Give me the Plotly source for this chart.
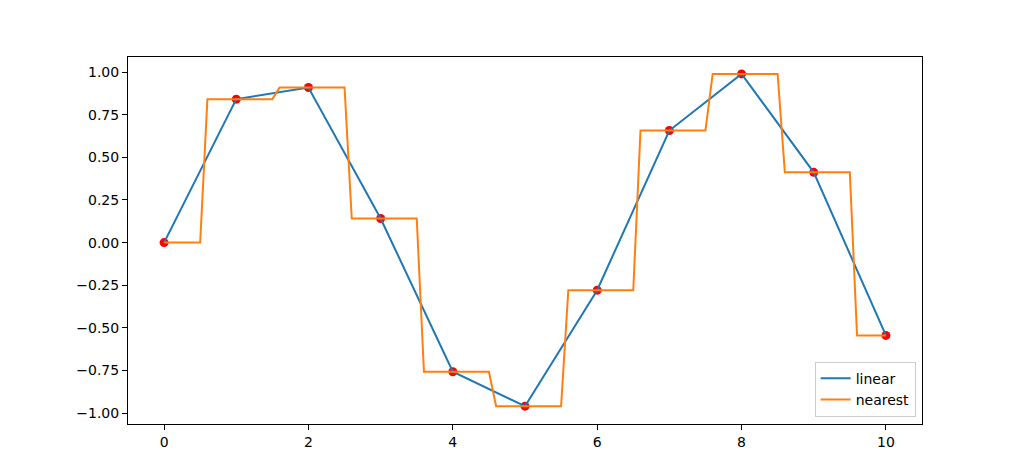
import plotly.graph_objects as go

# Sample points (x, sin-like values)
x_pts = [0, 1, 2, 3, 4, 5, 6, 7, 8, 9, 10]
y_pts = [0.0, 0.841, 0.909, 0.141, -0.757, -0.959, -0.279, 0.657, 0.989, 0.412, -0.544]

# Linear interpolation line uses the same points
x_linear = x_pts
y_linear = y_pts

# Nearest-neighbour step line vertices
x_nearest = [0, 0.5, 0.6, 1.5, 1.6, 2.5, 2.6, 3.5, 3.6, 4.5, 4.6, 5.5, 5.6, 6.5, 6.6,
             7.5, 7.6, 8.5, 8.6, 9.5, 9.6, 10]
y_nearest = [0.0, 0.0, 0.841, 0.841, 0.909, 0.909, 0.141, 0.141, -0.757, -0.757,
             -0.959, -0.959, -0.279, -0.279, 0.657, 0.657, 0.989, 0.989, 0.412, 0.412,
             -0.544, -0.544]

x_ticks = [0, 2, 4, 6, 8, 10]
y_ticks = [-1.0, -0.75, -0.5, -0.25, 0.0, 0.25, 0.5, 0.75, 1.0]
y_tick_labels = ["−1.00", "−0.75", "−0.50", "−0.25", "0.00", "0.25", "0.50", "0.75", "1.00"]

fig = go.Figure()
fig.add_trace(go.Scatter(x=x_pts, y=y_pts, mode="markers",
                         marker=dict(color="red", size=9), showlegend=False))
fig.add_trace(go.Scatter(x=x_linear, y=y_linear, mode="lines", name="linear",
                         line=dict(color="#1f77b4", width=2)))
fig.add_trace(go.Scatter(x=x_nearest, y=y_nearest, mode="lines", name="nearest",
                         line=dict(color="#ff7f0e", width=2)))

axis_common = dict(showgrid=False, zeroline=False, showline=True, linecolor="black",
                   linewidth=1, mirror=True, ticks="outside", ticklen=5, tickwidth=1,
                   tickcolor="black", tickfont=dict(family="DejaVu Sans", size=14, color="black"))

fig.update_layout(
    width=1026, height=476,
    margin=dict(l=120, r=112, t=49, b=60),
    paper_bgcolor="white", plot_bgcolor="white",
    xaxis=dict(range=[-0.5, 10.5], tickvals=x_ticks, **axis_common),
    yaxis=dict(range=[-1.0634, 1.088], tickvals=y_ticks, ticktext=y_tick_labels, **axis_common),
    legend=dict(x=0.992, y=0.02, xanchor="right", yanchor="bottom",
                bgcolor="rgba(255,255,255,0.8)", bordercolor="#cccccc", borderwidth=1,
                font=dict(family="DejaVu Sans", size=14, color="black"),
                tracegroupgap=0, itemwidth=30),
    showlegend=True,
)

fig.write_html("out.html")
